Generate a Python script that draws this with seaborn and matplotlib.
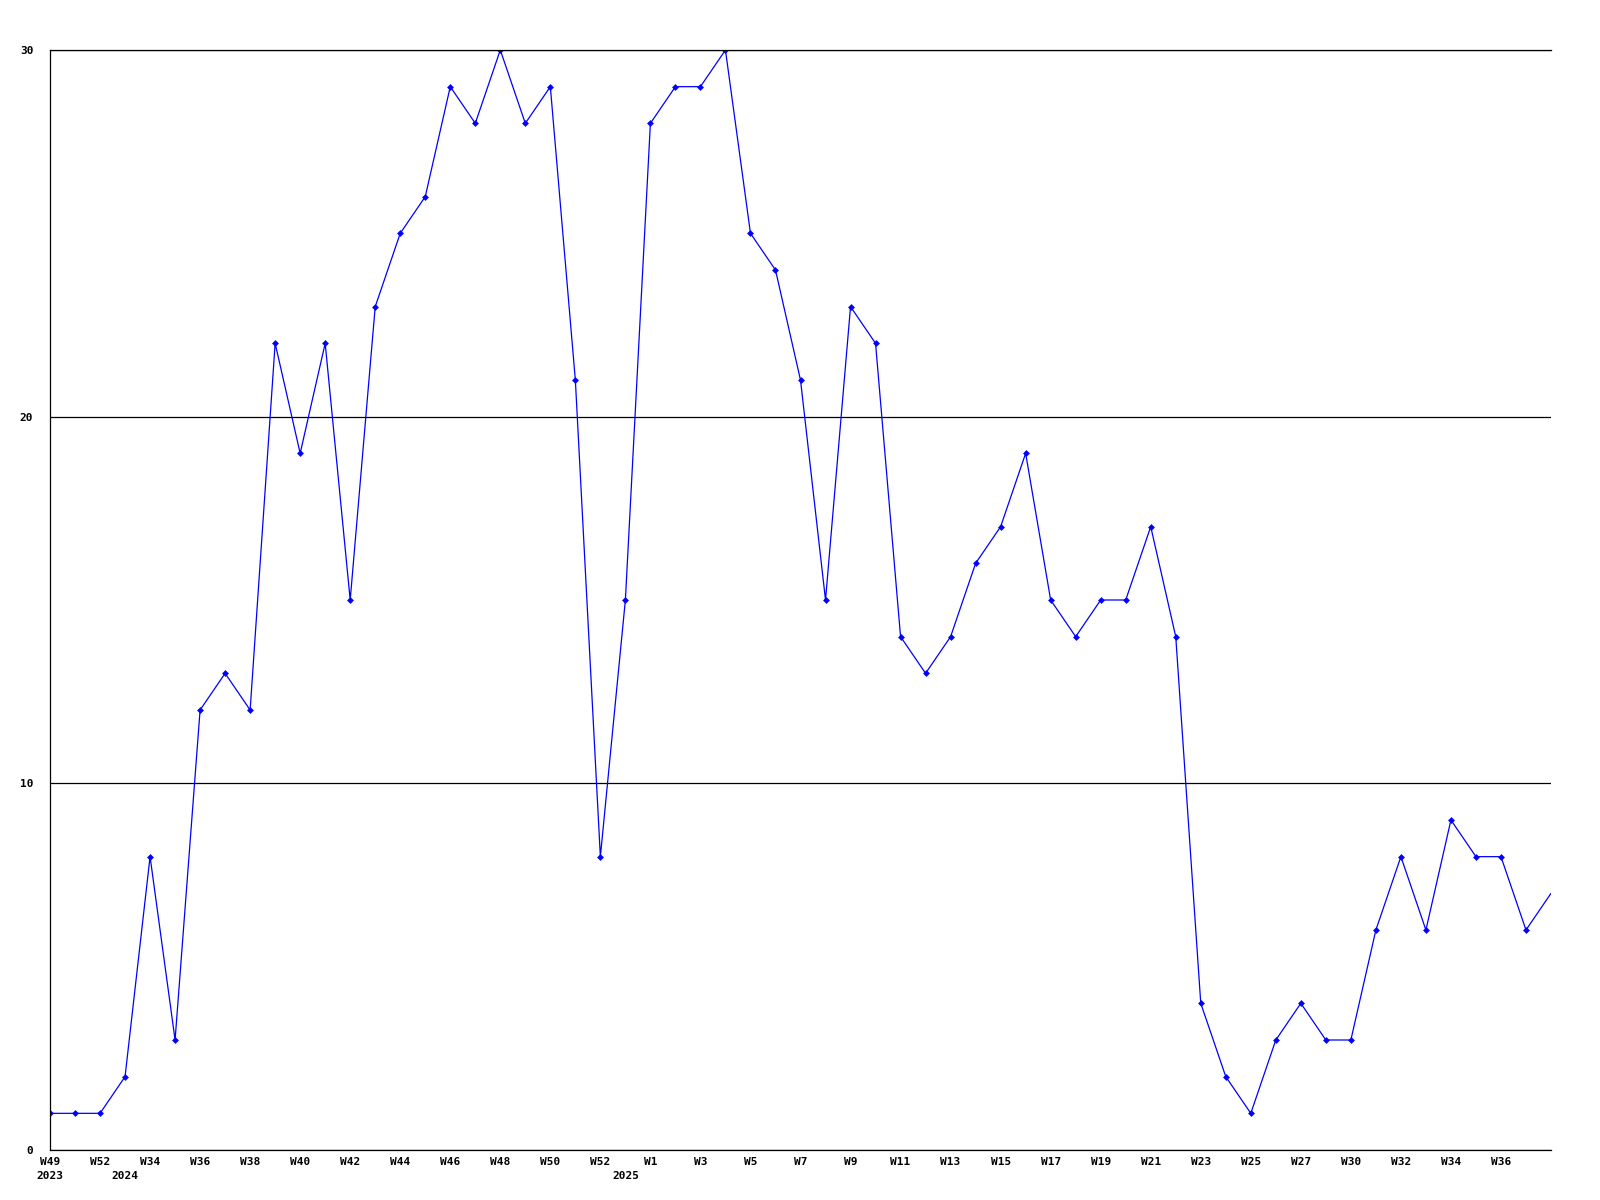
import matplotlib
matplotlib.use("Agg")
import matplotlib.pyplot as plt
import seaborn as sns
import pandas as pd

# ---- data ----
weeks = ["W49", "W51", "W52",
         "W33", "W34", "W35", "W36", "W37", "W38", "W39", "W40", "W41", "W42",
         "W43", "W44", "W45", "W46", "W47", "W48", "W49", "W50", "W51", "W52",
         "W0", "W1", "W2", "W3", "W4", "W5", "W6", "W7", "W8", "W9", "W10",
         "W11", "W12", "W13", "W14", "W15", "W16", "W17", "W18", "W19", "W20",
         "W21", "W22", "W23", "W24", "W25", "W26", "W27", "W28", "W30", "W31",
         "W32", "W33", "W34", "W35", "W36", "W37", "W38"]
years = ["2023"] * 3 + ["2024"] * 20 + ["2025"] * 38
values = [1, 1, 1, 2, 8, 3, 12, 13, 12, 22, 19, 22, 15, 23, 25, 26, 29, 28, 30,
          28, 29, 21, 8, 15, 28, 29, 29, 30, 25, 24, 21, 15, 23, 22, 14, 13, 14,
          16, 17, 19, 15, 14, 15, 15, 17, 14, 4, 2, 1, 3, 4, 3, 3, 6, 8, 6, 9,
          8, 8, 6, 7]
y_ticks = [0, 10, 20, 30]

df = pd.DataFrame({"idx": range(len(values)), "value": values,
                   "week": weeks, "year": years})

sns.set_theme(style="white")
plt.rcParams['font.family'] = ['DejaVu Sans Mono', 'DejaVu Sans']
plt.rcParams['font.weight'] = 'bold'

fig = plt.figure(figsize=(16, 12), dpi=100)
ax = fig.add_axes([50 / 1600, 50 / 1200, 1501 / 1600, 1100 / 1200])

sns.lineplot(data=df, x="idx", y="value", ax=ax, color="#0000FF", linewidth=0.9,
             marker="D", markersize=3.5, markeredgewidth=0,
             markevery=list(range(len(values) - 1)))

ax.set_xlim(0, len(values) - 1)
ax.set_ylim(0, 30)
ax.set_yticks(y_ticks)
ax.set_yticklabels([str(t) for t in y_ticks])
ax.yaxis.grid(True, color="black", linewidth=0.9)
ax.set_axisbelow(True)

# x tick labels: every other week (last point unlabeled), year at first point of each year
first_of_year = set(df.groupby("year")["idx"].min())
major = list(range(0, len(values) - 1, 2))
major_labels = [weeks[i] + ("\n" + years[i] if i in first_of_year else "") for i in major]
minor = [i for i in sorted(first_of_year) if i % 2 == 1]
minor_labels = ["\n" + years[i] for i in minor]
ax.set_xticks(major)
ax.set_xticklabels(major_labels)
ax.set_xticks(minor, minor=True)
ax.set_xticklabels(minor_labels, minor=True)

ax.tick_params(axis="both", which="both", length=0, labelsize=8, colors="black")
ax.tick_params(axis="x", which="both", pad=5)
ax.tick_params(axis="y", pad=12)
for lab in ax.get_xticklabels(minor=False) + ax.get_xticklabels(minor=True) + ax.get_yticklabels():
    lab.set_fontweight("bold")
    lab.set_linespacing(1.5)

ax.set_xlabel("")
ax.set_ylabel("")
for s in ["left", "bottom", "top"]:
    ax.spines[s].set_visible(True)
    ax.spines[s].set_color("black")
    ax.spines[s].set_linewidth(0.9)
ax.spines["right"].set_visible(False)

fig.savefig("out.png", dpi=100, facecolor="white")
